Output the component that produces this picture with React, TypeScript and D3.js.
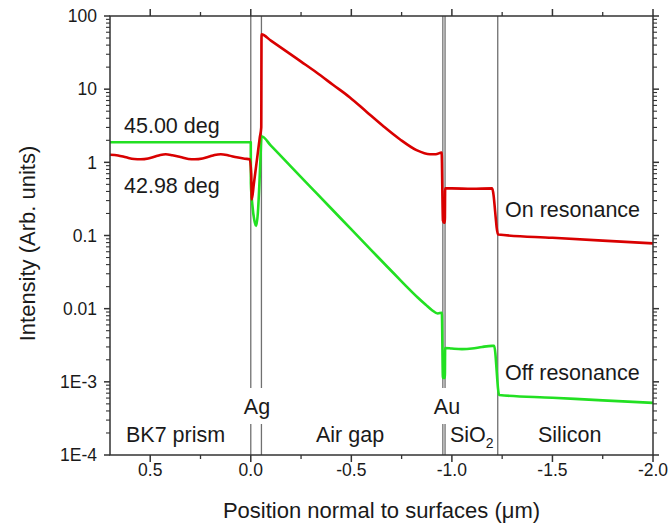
import React from 'react';
import * as d3 from 'd3';

const W = 670;
const H = 529;
const margin = { top: 16, right: 17, bottom: 74, left: 110 };

// On resonance, 42.98 deg (red)
const onX = [
  0.7, 0.66, 0.62, 0.58, 0.547, 0.51, 0.48, 0.45, 0.423, 0.39, 0.35, 0.31, 0.279, 0.24, 0.21, 0.18, 0.149,
  0.11, 0.07, 0.03, 0.005,
  -0.002, -0.005, -0.015, -0.025, -0.035, -0.045, -0.052, -0.0535,
  -0.1, -0.161, -0.25, -0.327, -0.41, -0.493, -0.575, -0.658, -0.741, -0.824, -0.891, -0.92, -0.949,
  -0.9555, -0.96, -0.965, -0.9665,
  -1.0, -1.1, -1.2, -1.23,
  -1.5, -1.75, -2.0,
];
const onI = [
  1.27, 1.24, 1.17, 1.11, 1.1, 1.13, 1.19, 1.26, 1.29, 1.25, 1.18, 1.11, 1.1, 1.13, 1.19, 1.26, 1.29,
  1.24, 1.17, 1.12, 1.1,
  0.7, 0.31, 0.5, 0.82, 1.35, 2.2, 3.0, 56,
  46, 35.3, 23.8, 16.9, 11.4, 7.7, 4.92, 3.14, 2.07, 1.47, 1.29, 1.29, 1.36,
  0.16, 0.15, 0.15, 0.44,
  0.44, 0.435, 0.44, 0.103,
  0.093, 0.085, 0.078,
];

// Off resonance, 45.00 deg (green)
const offX = [
  0.7, 0.35, 0.0,
  -0.0005, -0.008, -0.018, -0.027, -0.035, -0.042, -0.048, -0.0535,
  -0.1, -0.2, -0.3, -0.4, -0.5, -0.6, -0.68, -0.741, -0.78, -0.83, -0.87, -0.9, -0.93, -0.95,
  -0.9555, -0.965, -0.9665,
  -1.0, -1.05, -1.1, -1.15, -1.2, -1.21, -1.235,
  -1.5, -1.75, -2.0,
];
const offI = [
  1.88, 1.88, 1.88,
  0.52, 0.26, 0.16, 0.135, 0.2, 0.45, 1.1, 2.27,
  1.69, 0.873, 0.452, 0.234, 0.121, 0.0627, 0.0371, 0.025, 0.0194, 0.0142, 0.0113, 0.0096, 0.0086, 0.0088,
  0.00113, 0.00113, 0.0029,
  0.00285, 0.0028, 0.00285, 0.003, 0.0031, 0.0031, 0.00066,
  0.000607, 0.000558, 0.000515,
];

// layer boundaries: prism|Ag, Ag|air, air|Au, Au|SiO2, SiO2|Si
const layerLines = [0, -0.053, -0.955, -0.966, -1.228];

const xTicks = [0.5, 0, -0.5, -1, -1.5, -2];
const xTickLabels = ['0.5', '0.0', '-0.5', '-1.0', '-1.5', '-2.0'];
const xMinorTicks = [0.25, -0.25, -0.75, -1.25, -1.75];

const yTicks = [1e-4, 1e-3, 0.01, 0.1, 1, 10, 100];
const yTickLabels = ['1E-4', '1E-3', '0.01', '0.1', '1', '10', '100'];

const font = "'Liberation Sans', Arial, sans-serif";
const ink = '#1a1a1a';
const axisColor = '#333';

export default function App() {
  const x = d3.scaleLinear().domain([0.7, -2.0]).range([margin.left, W - margin.right]);
  const y = d3.scaleLog().domain([1e-4, 100]).range([H - margin.bottom, margin.top]);
  const x0 = margin.left, x1 = W - margin.right;
  const y0 = H - margin.bottom, y1 = margin.top;

  const line = d3.line<[number, number]>()
    .x(d => x(d[0]))
    .y(d => y(d[1]))
    .curve(d3.curveMonotoneX);

  const onPts = onX.map((v, i) => [v, onI[i]] as [number, number]);
  const offPts = offX.map((v, i) => [v, offI[i]] as [number, number]);

  const yMinor = y.ticks().filter(t => !yTicks.some(m => Math.abs(m - t) / m < 1e-6));

  return (
    <svg width={W} height={H} style={{ position: 'absolute', left: 0, top: 0, background: '#fff' }}
      fontFamily={font}>
      <rect width={W} height={H} fill="#fff" />

      {/* layer boundaries */}
      {layerLines.map((v, i) => (
        <line key={i} x1={x(v)} x2={x(v)} y1={y1} y2={y0} stroke="#707070" strokeWidth={1.3} />
      ))}

      {/* curves */}
      <path d={line(offPts) ?? ''} fill="none" stroke="#22e022" strokeWidth={2.6} strokeLinejoin="round" />
      <path d={line(onPts) ?? ''} fill="none" stroke="#d90000" strokeWidth={2.6} strokeLinejoin="round" />

      {/* frame */}
      <rect x={x0} y={y1} width={x1 - x0} height={y0 - y1} fill="none" stroke={axisColor} strokeWidth={1.5} />

      {/* x ticks bottom and top */}
      {xTicks.map((t, i) => (
        <g key={'xt' + i}>
          <line x1={x(t)} x2={x(t)} y1={y0} y2={y0 + 7} stroke={axisColor} strokeWidth={1.5} />
          <line x1={x(t)} x2={x(t)} y1={y1} y2={y1 - 7} stroke={axisColor} strokeWidth={1.5} />
          <text x={x(t)} y={y0 + 21} textAnchor="middle" fontSize={17.5} fill={ink}>{xTickLabels[i]}</text>
        </g>
      ))}
      {xMinorTicks.map((t, i) => (
        <g key={'xm' + i}>
          <line x1={x(t)} x2={x(t)} y1={y0} y2={y0 + 4} stroke={axisColor} strokeWidth={1.3} />
          <line x1={x(t)} x2={x(t)} y1={y1} y2={y1 - 4} stroke={axisColor} strokeWidth={1.3} />
        </g>
      ))}

      {/* y ticks left and right */}
      {yTicks.map((t, i) => (
        <g key={'yt' + i}>
          <line x1={x0} x2={x0 - 6} y1={y(t)} y2={y(t)} stroke={axisColor} strokeWidth={1.5} />
          <line x1={x1} x2={x1 + 6} y1={y(t)} y2={y(t)} stroke={axisColor} strokeWidth={1.5} />
          <text x={x0 - 13} y={y(t)} dy="0.36em" textAnchor="end" fontSize={17.5} fill={ink}>{yTickLabels[i]}</text>
        </g>
      ))}
      {yMinor.map((t, i) => (
        <g key={'ym' + i}>
          <line x1={x0} x2={x0 - 4} y1={y(t)} y2={y(t)} stroke={axisColor} strokeWidth={1.1} />
          <line x1={x1} x2={x1 + 4} y1={y(t)} y2={y(t)} stroke={axisColor} strokeWidth={1.1} />
        </g>
      ))}

      {/* axis titles */}
      <text x={(x0 + x1) / 2} y={518} textAnchor="middle" fontSize={22} fill={ink}>
        Position normal to surfaces (μm)
      </text>
      <text transform={`translate(35,${(y0 + y1) / 2 + 8}) rotate(-90)`} textAnchor="middle" fontSize={22} fill={ink}>
        Intensity (Arb. units)
      </text>

      {/* curve annotations */}
      <text x={124} y={133} fontSize={21.5} fill={ink}>45.00 deg</text>
      <text x={124} y={193} fontSize={21.5} fill={ink}>42.98 deg</text>
      <text x={505} y={217} fontSize={21.5} fill={ink}>On resonance</text>
      <text x={505} y={380} fontSize={21.5} fill={ink}>Off resonance</text>

      {/* metal labels over the boundary lines */}
      <rect x={241} y={388} width={32} height={36} fill="#fff" />
      <text x={257} y={414} textAnchor="middle" fontSize={21.5} fill={ink}>Ag</text>
      <rect x={433} y={388} width={28} height={36} fill="#fff" />
      <text x={447} y={414} textAnchor="middle" fontSize={21.5} fill={ink}>Au</text>

      {/* layer names */}
      <text x={126} y={442} fontSize={21.5} fill={ink}>BK7 prism</text>
      <text x={316} y={442} fontSize={21.5} fill={ink}>Air gap</text>
      <text x={450} y={442} fontSize={21.5} fill={ink}>
        SiO<tspan dy={6} fontSize={14}>2</tspan>
      </text>
      <text x={538} y={442} fontSize={21.5} fill={ink}>Silicon</text>
    </svg>
  );
}
